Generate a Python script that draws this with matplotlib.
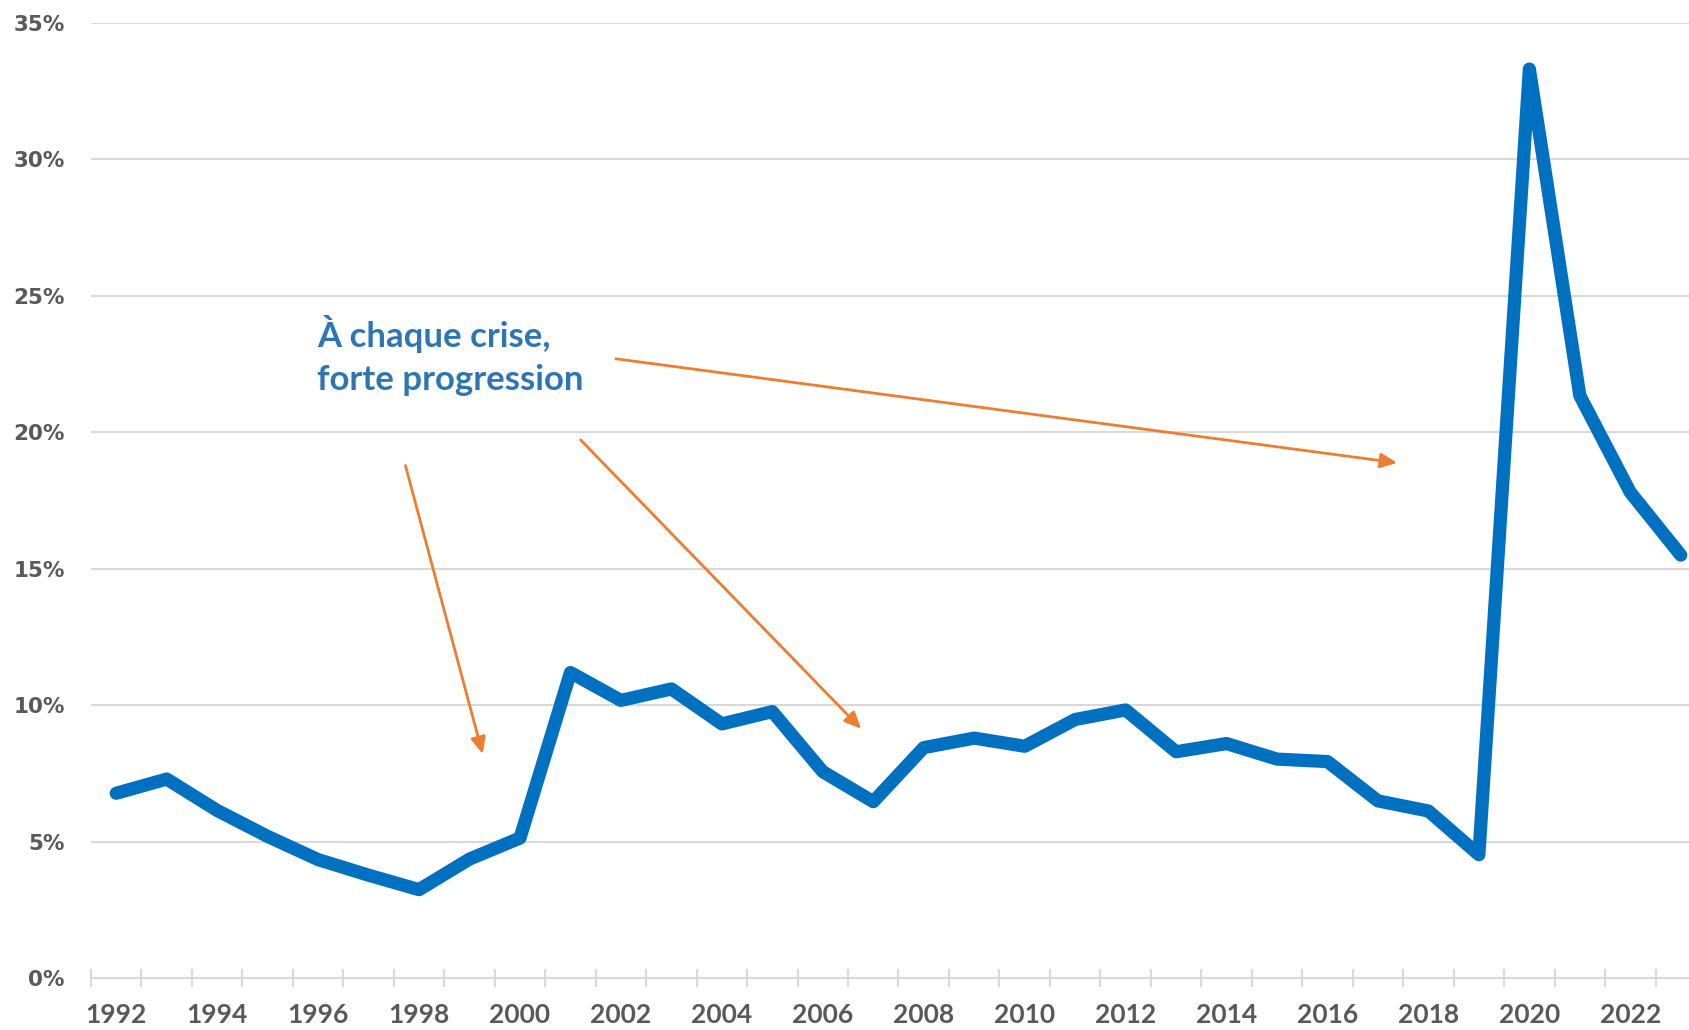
import matplotlib
matplotlib.use("Agg")
import matplotlib.pyplot as plt
from matplotlib.ticker import FixedLocator, FuncFormatter

years = list(range(1992, 2024))
values = [6.78, 7.30, 6.15, 5.20, 4.35, 3.78, 3.25, 4.37, 5.14, 11.20,
          10.18, 10.60, 9.32, 9.77, 7.57, 6.47, 8.45, 8.80, 8.50, 9.48,
          9.83, 8.30, 8.60, 8.03, 7.94, 6.50, 6.13, 4.53, 33.30, 21.34,
          17.80, 15.50]
y_ticks = [0, 5, 10, 15, 20, 25, 30, 35]
annotation_text = "À chaque crise,\nforte progression"

W, H = 1690, 1030
fig = plt.figure(figsize=(W / 100, H / 100), dpi=100)
left_px, right_px, bottom_px, top_px = 91, 1706, 978.4, 22.6
ax = fig.add_axes([left_px / W, (H - bottom_px) / H,
                   (right_px - left_px) / W, (bottom_px - top_px) / H])

x = list(range(len(years)))
ax.plot(x, values, color="#0070C0", linewidth=9.5,
        solid_capstyle="round", solid_joinstyle="round", zorder=3)

ax.set_xlim(-0.5, len(years) - 0.5)
ax.set_ylim(0, 35)

for s in ["top", "right", "left"]:
    ax.spines[s].set_visible(False)
ax.spines["bottom"].set_color("#D9D9D9")
ax.spines["bottom"].set_linewidth(1.5)

ax.yaxis.set_major_locator(FixedLocator(y_ticks))
ax.yaxis.set_major_formatter(FuncFormatter(lambda v, p: f"{int(v)}%"))
ax.grid(axis="y", color="#D9D9D9", linewidth=1.5, zorder=0)
ax.tick_params(axis="y", length=0, pad=19, labelsize=15.5, labelcolor="#595959")
for lbl in ax.get_yticklabels():
    lbl.set_fontfamily("DejaVu Sans")
    lbl.set_fontweight("bold")

# x: ticks at category boundaries, labels every 2 years at centres
ax.xaxis.set_major_locator(FixedLocator([i - 0.5 for i in range(len(years) + 1)]))
ax.xaxis.set_major_formatter(FuncFormatter(lambda v, p: ""))
ax.tick_params(axis="x", which="major", direction="inout", length=13,
               width=1.5, color="#D9D9D9")
label_pos = [i for i in x if (years[i] - years[0]) % 2 == 0]
ax.xaxis.set_minor_locator(FixedLocator(label_pos))
ax.xaxis.set_minor_formatter(FuncFormatter(lambda v, p: str(years[int(round(v))])))
ax.tick_params(axis="x", which="minor", length=0, pad=18, labelsize=19,
               labelcolor="#595959")
for lbl in ax.get_xticklabels(minor=True):
    lbl.set_fontfamily("Lato")
    lbl.set_fontweight("bold")

# annotation
ax.text(3.98, 22.8, annotation_text, fontsize=25, fontweight="bold",
        family="Lato", color="#2E75B6", ha="left", va="center",
        linespacing=1.42, zorder=4)

arrow_kw = dict(arrowstyle="-|>,head_length=1.0,head_width=0.45",
                color="#ED7D31", linewidth=2.0, shrinkA=0, shrinkB=0)
arrows = [((5.73, 18.78), (7.26, 8.22)),
          ((9.20, 19.72), (14.76, 9.14)),
          ((9.90, 22.69), (25.38, 18.88))]
for start, end in arrows:
    ax.annotate("", xy=end, xytext=start, arrowprops=arrow_kw, zorder=4)

fig.savefig("out.png", dpi=100, facecolor="white")
